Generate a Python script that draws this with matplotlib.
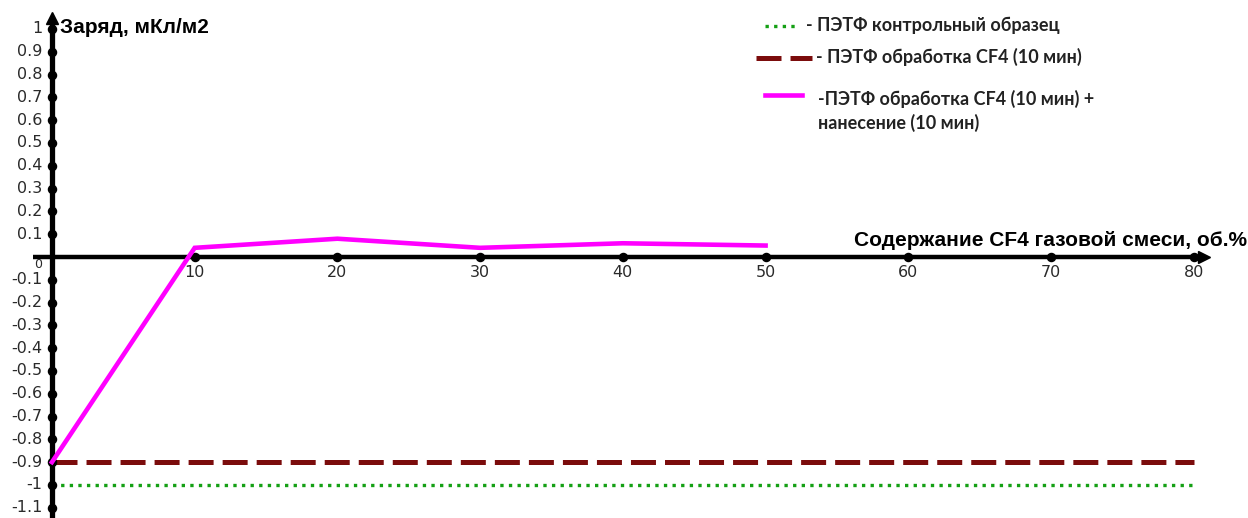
import matplotlib.pyplot as plt

plt.rcParams['lines.scale_dashes'] = False

# CF4 content in the gas mixture, vol.%
x_treated = [0, 10, 20, 30, 40, 50]
q_treated = [-0.9, 0.04, 0.08, 0.04, 0.06, 0.05]

x_ref = [0, 80]
q_control = [-1.0, -1.0]
q_cf4 = [-0.9, -0.9]

xticks = [10, 20, 30, 40, 50, 60, 70, 80]
yticks = [1, 0.9, 0.8, 0.7, 0.6, 0.5, 0.4, 0.3, 0.2, 0.1,
          -0.1, -0.2, -0.3, -0.4, -0.5, -0.6, -0.7, -0.8, -0.9, -1, -1.1]

fig = plt.figure(figsize=(12.48, 5.18), dpi=100)
ax = fig.add_axes([0, 0, 1, 1])
ax.set_xlim(-3.64, 83.8)
ax.set_ylim(-1.145, 1.127)
ax.axis('off')

# axes drawn through the origin, with arrow heads
ax.plot([-1.3, 80.6], [0, 0], color='black', lw=3.2, zorder=3, solid_capstyle='butt')
ax.plot([0, 0], [-1.15, 1.04], color='black', lw=3.8, zorder=3, solid_capstyle='butt')
ax.plot([80.7], [0], marker='>', color='black', ms=9, zorder=4)
ax.plot([0], [1.05], marker='^', color='black', ms=9, zorder=4)

# tick dots
ax.scatter(xticks, [0] * len(xticks), s=34, color='black', zorder=4)
ax.scatter([0] * len(yticks), yticks, s=34, color='black', zorder=4)

tick_font = dict(family='DejaVu Sans', fontsize=11.5, color='#2a2a2a')
for xv in xticks:
    ax.text(xv, -0.035, str(xv), ha='center', va='top', **tick_font)
for yv in yticks:
    ax.text(-0.65, yv, ('%g' % yv), ha='right', va='center', **tick_font)
ax.text(-0.95, -0.006, '0', ha='center', va='top', family='DejaVu Sans',
        fontsize=9, color='#2a2a2a', zorder=2)

# data
ax.plot(x_ref, q_control, color='#14a014', lw=2.4, linestyle=(0, (2.4, 3.8)), zorder=2)
ax.plot(x_ref, q_cf4, color='#7b0c0c', lw=3.6, linestyle=(0, (18, 6.5)), zorder=2)
ax.plot(x_treated, q_treated, color='#ff00ff', lw=3.3, zorder=5, solid_joinstyle='miter')

# axis titles
ax.text(0.55, 1.005, 'Заряд, мКл/м2', ha='left', va='center',
        family='Liberation Sans', fontweight='bold', fontsize=15)
ax.text(83.75, 0.03, 'Содержание CF4 газовой смеси, об.%', ha='right', va='bottom',
        family='Liberation Sans', fontweight='bold', fontsize=15)

# legend
leg_font = dict(family='Lato', fontweight='bold', fontsize=13, color='#222222',
                transform=fig.transFigure, va='center', ha='left')
W, H = 1248, 518
fig.add_artist(plt.Line2D([765 / W, 796 / W], [1 - 26 / H, 1 - 26 / H], color='#14a014',
                          lw=2.4, linestyle=(0, (2.4, 3.8))))
fig.text(806 / W, 1 - 25 / H, '- ПЭТФ контрольный образец', **leg_font)
fig.add_artist(plt.Line2D([756 / W, 812 / W], [1 - 58 / H, 1 - 58 / H], color='#7b0c0c',
                          lw=3.6, linestyle=(0, (18, 6.5))))
fig.text(816 / W, 1 - 57 / H, '- ПЭТФ обработка CF4 (10 мин)', **leg_font)
fig.add_artist(plt.Line2D([765 / W, 802 / W], [1 - 95 / H, 1 - 95 / H], color='#ff00ff', lw=3.3))
fig.text(818 / W, 1 - 99 / H, '-ПЭТФ обработка CF4 (10 мин) +', **leg_font)
fig.text(818 / W, 1 - 123 / H, 'нанесение (10 мин)', **leg_font)

fig.savefig('out.png', dpi=100)
